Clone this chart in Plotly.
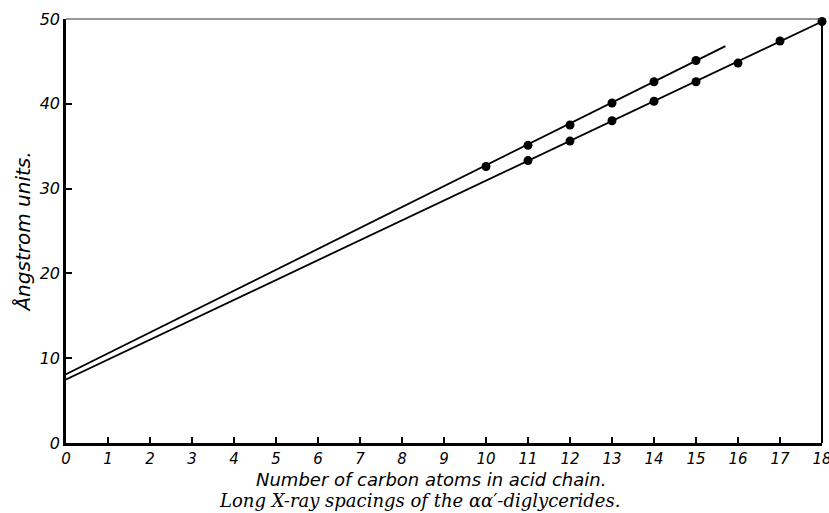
import plotly.graph_objects as go

# Data
carbons_a = [10, 11, 12, 13, 14, 15]
spacing_a = [32.6, 35.1, 37.5, 40.1, 42.6, 45.1]
line_a_x = [0, 15.7]
line_a_y = [8.1, 46.8]

carbons_b = [11, 12, 13, 14, 15, 16, 17, 18]
spacing_b = [33.3, 35.6, 38.0, 40.3, 42.6, 44.8, 47.4, 49.7]
line_b_x = [0, 18]
line_b_y = [7.5, 49.7]

x_ticks = list(range(0, 19))
y_ticks = [0, 10, 20, 30, 40, 50]

fig = go.Figure()
fig.add_trace(go.Scatter(x=line_a_x, y=line_a_y, mode="lines", cliponaxis=False,
                         line=dict(color="black", width=1.8), showlegend=False, hoverinfo="skip"))
fig.add_trace(go.Scatter(x=line_b_x, y=line_b_y, mode="lines", cliponaxis=False,
                         line=dict(color="black", width=1.8), showlegend=False, hoverinfo="skip"))
fig.add_trace(go.Scatter(x=carbons_a, y=spacing_a, mode="markers", cliponaxis=False,
                         marker=dict(color="black", size=9), showlegend=False))
fig.add_trace(go.Scatter(x=carbons_b, y=spacing_b, mode="markers", cliponaxis=False,
                         marker=dict(color="black", size=9), showlegend=False))

tickfont = dict(family="DejaVu Sans", size=15, color="black", style="italic")

fig.update_xaxes(range=[0, 18], tickvals=x_ticks, ticktext=[str(v) for v in x_ticks],
                 ticks="inside", ticklen=6, tickwidth=1.5, tickcolor="black",
                 ticklabeloverflow="allow", automargin=False,
                 showline=True, linecolor="black", linewidth=2.5, showgrid=False, zeroline=False,
                 tickfont=tickfont)
fig.update_yaxes(range=[0, 50], tickvals=y_ticks, ticktext=[str(v) for v in y_ticks],
                 ticks="inside", ticklen=6, tickwidth=1.5, tickcolor="black",
                 automargin=False,
                 showline=True, linecolor="black", linewidth=2.5, showgrid=False, zeroline=False,
                 tickfont=dict(family="DejaVu Sans", size=16, color="black", style="italic"),
                 title=dict(text="Ångstrom units.", standoff=4,
                            font=dict(family="DejaVu Sans", size=20, color="black", style="italic")))

# top and right frame lines
fig.add_shape(type="line", xref="paper", yref="paper", x0=0, x1=1, y0=1, y1=1,
              line=dict(color="#333", width=1.2))
fig.add_shape(type="line", xref="paper", yref="paper", x0=1, x1=1, y0=0, y1=1,
              line=dict(color="black", width=2))

fig.add_annotation(text="Number of carbon atoms in acid chain.", xref="paper", yref="paper",
                   x=0.483, y=-0.086, yanchor="middle", showarrow=False,
                   font=dict(family="DejaVu Sans", size=18, color="black", style="italic"))
fig.add_annotation(text="Long X-ray spacings of the αα′-diglycerides.", xref="paper", yref="paper",
                   x=0.468, y=-0.135, yanchor="middle", showarrow=False,
                   font=dict(family="DejaVu Serif", size=18, color="black", style="italic"))

fig.update_layout(width=829, height=513, margin=dict(l=66, r=7, t=19, b=70),
                  plot_bgcolor="white", paper_bgcolor="white")

fig.write_html("out.html")
